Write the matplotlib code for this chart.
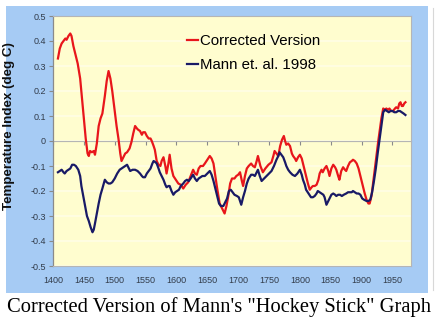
import matplotlib
matplotlib.use("Agg")
import matplotlib.pyplot as plt
from matplotlib.patches import Rectangle

# reconstructed temperature index, deg C
corr_years = [1408, 1411, 1414, 1417, 1420, 1422, 1425, 1428, 1430, 1433, 1436, 1440, 1444, 1447,
              1450, 1453, 1456, 1458, 1460, 1463, 1466, 1468, 1471, 1474, 1477, 1480, 1484, 1487,
              1490, 1493, 1496, 1500, 1503, 1506, 1509, 1511, 1514, 1517, 1520, 1524, 1527, 1530,
              1533, 1536, 1538, 1541, 1544, 1546, 1549, 1552, 1555, 1558, 1560, 1563, 1565, 1568,
              1571, 1574, 1576, 1579, 1582, 1584, 1587, 1589, 1592, 1595, 1599, 1603, 1607, 1611,
              1615, 1619, 1623, 1627, 1630, 1633, 1636, 1639, 1643, 1646, 1650, 1654, 1657, 1660,
              1663, 1666, 1670, 1674, 1678, 1681, 1684, 1687, 1690, 1694, 1697, 1700, 1703, 1706,
              1708, 1711, 1714, 1717, 1721, 1724, 1727, 1730, 1732, 1736, 1740, 1744, 1749, 1754,
              1757, 1759, 1762, 1765, 1768, 1771, 1774, 1776, 1778, 1781, 1784, 1787, 1789, 1792,
              1794, 1797, 1800, 1803, 1805, 1808, 1810, 1813, 1816, 1819, 1821, 1824, 1827, 1830,
              1832, 1835, 1837, 1840, 1843, 1846, 1848, 1851, 1854, 1857, 1859, 1862, 1864, 1867,
              1870, 1873, 1875, 1878, 1881, 1884, 1886, 1889, 1892, 1895, 1897, 1900, 1902, 1905,
              1908, 1911, 1913, 1916, 1918, 1921, 1924, 1927, 1929, 1932, 1935, 1938, 1940, 1943,
              1945, 1948, 1951, 1954, 1956, 1959, 1961, 1963, 1965, 1967, 1969, 1971]
corr_vals = [0.33, 0.37, 0.39, 0.40, 0.41, 0.405, 0.42, 0.43, 0.42, 0.38, 0.35, 0.31, 0.25, 0.17,
             0.09, 0.01, -0.05, -0.06, -0.04, -0.045, -0.04, -0.055, -0.01, 0.06, 0.09, 0.11, 0.18, 0.24,
             0.28, 0.25, 0.20, 0.12, 0.06, 0.01, -0.05, -0.08, -0.065, -0.05, -0.045, -0.03, -0.005, 0.03,
             0.06, 0.05, 0.045, 0.04, 0.025, 0.035, 0.035, 0.02, 0.01, 0.01, 0.0, -0.02, -0.035, -0.08,
             -0.095, -0.10, -0.08, -0.065, -0.10, -0.13, -0.09, -0.055, -0.11, -0.14, -0.155, -0.17, -0.175, -0.19,
             -0.175, -0.165, -0.14, -0.115, -0.13, -0.135, -0.11, -0.10, -0.10, -0.09, -0.075, -0.06, -0.07, -0.09,
             -0.14, -0.19, -0.25, -0.27, -0.29, -0.26, -0.22, -0.17, -0.15, -0.15, -0.14, -0.135, -0.125, -0.16,
             -0.18, -0.14, -0.11, -0.10, -0.09, -0.10, -0.105, -0.08, -0.06, -0.10, -0.125, -0.11, -0.095, -0.085,
             -0.06, -0.04, -0.05, -0.06, -0.02, 0.005, 0.02, 0.0, -0.015, -0.01, -0.02, -0.05, -0.06, -0.07,
             -0.08, -0.065, -0.055, -0.07, -0.09, -0.12, -0.14, -0.17, -0.195, -0.185, -0.18, -0.18, -0.175, -0.155,
             -0.13, -0.115, -0.125, -0.11, -0.10, -0.12, -0.14, -0.11, -0.095, -0.105, -0.115, -0.14, -0.155, -0.12,
             -0.105, -0.115, -0.12, -0.10, -0.085, -0.08, -0.075, -0.08, -0.09, -0.11, -0.13, -0.16, -0.18, -0.21,
             -0.235, -0.25, -0.25, -0.22, -0.18, -0.12, -0.06, 0.0, 0.035, 0.09, 0.13, 0.125, 0.13, 0.125,
             0.13, 0.12, 0.12, 0.13, 0.135, 0.13, 0.15, 0.155, 0.14, 0.14, 0.15, 0.155]

mann_years = [1408, 1411, 1414, 1417, 1419, 1422, 1425, 1428, 1431, 1434, 1437, 1441, 1444, 1446,
              1449, 1452, 1455, 1458, 1461, 1464, 1466, 1468, 1471, 1474, 1477, 1480, 1484, 1487,
              1490, 1493, 1496, 1500, 1504, 1508, 1511, 1514, 1517, 1520, 1523, 1525, 1529, 1533,
              1537, 1541, 1544, 1546, 1549, 1552, 1555, 1558, 1561, 1563, 1566, 1568, 1571, 1573,
              1576, 1579, 1582, 1584, 1587, 1589, 1592, 1595, 1598, 1601, 1604, 1607, 1611, 1614,
              1617, 1620, 1623, 1627, 1630, 1633, 1636, 1639, 1642, 1646, 1650, 1654, 1657, 1660,
              1663, 1666, 1669, 1672, 1676, 1679, 1682, 1685, 1688, 1691, 1694, 1698, 1701, 1703,
              1705, 1708, 1711, 1714, 1717, 1721, 1724, 1727, 1730, 1732, 1735, 1738, 1742, 1746,
              1750, 1754, 1758, 1762, 1765, 1767, 1770, 1773, 1776, 1778, 1781, 1784, 1788, 1792,
              1796, 1800, 1803, 1805, 1808, 1810, 1814, 1818, 1821, 1824, 1827, 1829, 1832, 1835,
              1838, 1840, 1843, 1846, 1848, 1851, 1854, 1857, 1859, 1862, 1865, 1868, 1871, 1875,
              1878, 1881, 1884, 1886, 1889, 1892, 1895, 1898, 1901, 1904, 1908, 1911, 1914, 1917,
              1920, 1923, 1926, 1929, 1932, 1935, 1938, 1941, 1944, 1947, 1950, 1953, 1956, 1959,
              1962, 1965, 1968, 1971]
mann_vals = [-0.125, -0.12, -0.115, -0.125, -0.13, -0.12, -0.115, -0.11, -0.095, -0.095, -0.10, -0.115, -0.14, -0.18,
             -0.22, -0.26, -0.30, -0.32, -0.345, -0.365, -0.355, -0.33, -0.29, -0.25, -0.215, -0.19, -0.155, -0.165,
             -0.17, -0.17, -0.165, -0.15, -0.13, -0.115, -0.11, -0.105, -0.10, -0.095, -0.11, -0.12, -0.115, -0.115,
             -0.12, -0.13, -0.14, -0.145, -0.145, -0.13, -0.12, -0.11, -0.09, -0.08, -0.085, -0.09, -0.11, -0.125,
             -0.14, -0.155, -0.175, -0.185, -0.18, -0.18, -0.20, -0.215, -0.205, -0.20, -0.195, -0.18, -0.17, -0.16,
             -0.155, -0.16, -0.15, -0.135, -0.15, -0.16, -0.15, -0.145, -0.14, -0.14, -0.13, -0.12, -0.135, -0.16,
             -0.19, -0.22, -0.25, -0.26, -0.26, -0.245, -0.23, -0.20, -0.195, -0.205, -0.215, -0.22, -0.225, -0.24,
             -0.255, -0.225, -0.20, -0.17, -0.15, -0.135, -0.135, -0.14, -0.125, -0.115, -0.14, -0.16, -0.15, -0.14,
             -0.13, -0.12, -0.10, -0.075, -0.06, -0.045, -0.055, -0.065, -0.085, -0.10, -0.115, -0.125, -0.135, -0.14,
             -0.13, -0.115, -0.135, -0.155, -0.175, -0.195, -0.21, -0.225, -0.225, -0.22, -0.21, -0.20, -0.205, -0.21,
             -0.215, -0.225, -0.255, -0.24, -0.23, -0.215, -0.21, -0.215, -0.22, -0.215, -0.215, -0.22, -0.215, -0.21,
             -0.205, -0.205, -0.205, -0.20, -0.205, -0.21, -0.21, -0.215, -0.23, -0.235, -0.24, -0.24, -0.235, -0.205,
             -0.16, -0.11, -0.05, 0.005, 0.06, 0.115, 0.125, 0.12, 0.115, 0.12, 0.12, 0.115, 0.115, 0.12,
             0.12, 0.115, 0.11, 0.104]

x_ticks = [1400, 1450, 1500, 1550, 1600, 1650, 1700, 1750, 1800, 1850, 1900, 1950]
y_ticks = [-0.5, -0.4, -0.3, -0.2, -0.1, 0, 0.1, 0.2, 0.3, 0.4, 0.5]
y_ticklabels = ['-0.5', '-0.4', '-0.3', '-0.2', '-0.1', '0', '0.1', '0.2', '0.3', '0.4', '0.5']

plt.rcParams['font.family'] = ['Liberation Sans', 'DejaVu Sans']

W, H = 438, 322
fig = plt.figure(figsize=(W / 100, H / 100), dpi=100, facecolor='white')

# light blue chart area behind the plot
fig.add_artist(Rectangle((6 / W, 1 - 293 / H), (428 - 6) / W, (293 - 6) / H,
                         transform=fig.transFigure, facecolor='#a6cbf4',
                         edgecolor='none', zorder=-5))
fig.add_artist(plt.Line2D([433 / W, 433 / W], [1 - 290 / H, 1 - 8 / H],
                          color='#d8d8d8', lw=0.8, zorder=-5))

ax = fig.add_axes([53 / W, 1 - 266 / H, (411 - 53) / W, (266 - 16) / H], zorder=1)
ax.set_facecolor('#fffdcf')
ax.set_xlim(1400, 1980)
ax.set_ylim(-0.5, 0.5)

ax.grid(axis='y', color='white', lw=1.2, alpha=0.45)
ax.set_axisbelow(True)

ax.plot(corr_years, corr_vals, color='#e8161b', lw=1.6, label='Corrected Version', zorder=3)
ax.plot(mann_years, mann_vals, color='#191a66', lw=1.6, label='Mann et. al. 1998', zorder=4)

for side in ['top', 'right', 'bottom']:
    ax.spines[side].set_color('#b5b5b5')
    ax.spines[side].set_linewidth(0.8)
ax.spines['left'].set_color('#8a8a8a')
ax.spines['left'].set_linewidth(0.9)

ax.set_yticks(y_ticks)
ax.set_yticklabels(y_ticklabels)
ax.set_xticks(x_ticks)
ax.tick_params(axis='y', length=3, width=0.8, color='#8a8a8a', pad=2,
               labelsize=6.5, labelcolor='#323c4a')
ax.tick_params(axis='x', length=0, pad=7, labelsize=6.5, labelcolor='#323c4a')

# category axis crossing at zero, with its own tick marks pointing down
zero_ax = ax.secondary_xaxis(0.5)
zero_ax.set_xticks(x_ticks, labels=[])
zero_ax.tick_params(axis='x', direction='in', length=3, width=0.8, color='#8a8a8a',
                    labeltop=False, labelbottom=False)
for sp in zero_ax.spines.values():
    sp.set_color('#8a8a8a')
    sp.set_linewidth(0.8)

ax.set_ylabel('Temperature Index (deg C)', fontsize=9.6, fontweight='bold', color='#111111')
ax.yaxis.set_label_coords(-0.105, 0.56)

ax.legend(loc='upper left', bbox_to_anchor=(187 / W, 1 - 34 / H), bbox_transform=fig.transFigure,
          frameon=False, fontsize=10.8, handlelength=0.7, handletextpad=0.2,
          labelspacing=0.67, borderpad=0, borderaxespad=0)

fig.text(0.5, 1 - 307 / H, 'Corrected Version of Mann\'s "Hockey Stick" Graph',
         ha='center', va='center', fontsize=14.8, family='Liberation Serif', color='black')

fig.savefig('out.png', dpi=100, facecolor='white')
